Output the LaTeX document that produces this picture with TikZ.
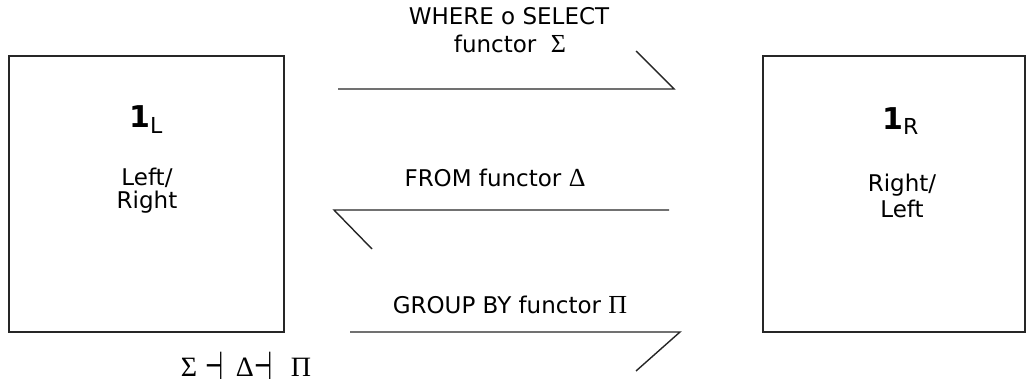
\documentclass[tikz,border=0pt]{standalone}
\usepackage{fontspec}
\usepackage{graphicx}
\setmainfont{DejaVu Sans}
\newfontfamily\grk{Liberation Serif}
\tikzset{
  box/.style={draw=black!85, line width=1.4pt, inner sep=0pt},
  lbl/.style={inner sep=0pt, anchor=base, font=\fontsize{23}{23}\selectfont, align=center},
  one/.style={inner sep=0pt, anchor=base west, font=\fontsize{30}{30}\selectfont\bfseries},
  sym/.style={inner sep=0pt, anchor=base, font=\fontsize{28}{28}\selectfont\grk},
  turn/.style={inner sep=0pt, anchor=base},
  conn/.style={draw=black!85, line width=1.4pt},
}
\begin{document}
\begin{tikzpicture}[x=1pt,y=-1pt]
\useasboundingbox (0,0) rectangle (1028,387);
\fill[white] (0,0) rectangle (1028,387);
% boxes
\node[box, minimum width=275pt, minimum height=276pt] (L) at (146.5,194) {};
\node[box, minimum width=262pt, minimum height=276pt] (R) at (894,194) {};
% box texts
\node[one] (oneL) at (129,128) {1\raisebox{-6pt}{\fontsize{22}{22}\selectfont\mdseries L}};
\node[lbl] (ltxt1) at (147,186) {Left/};
\node[lbl] (ltxt2) at (147,209) {Right};
\node[one] (oneR) at (882,130) {1\raisebox{-5pt}{\fontsize{22}{22}\selectfont\mdseries R}};
\node[lbl] (rtxt1) at (902,192) {Right/};
\node[lbl] (rtxt2) at (902,218) {Left};
% arrow labels
\node[lbl] (t1) at (509,25) {WHERE o SELECT};
\node[lbl] (t2) at (510,53) {functor\ \ {\grk\fontsize{26}{26}\selectfont Σ}};
\node[lbl] (t3) at (495,187) {FROM functor {\grk\fontsize{26}{26}\selectfont Δ}};
\node[lbl] (t4) at (510,314) {GROUP BY functor {\grk\fontsize{26}{26}\selectfont Π}};
% connectors (half arrows)
\coordinate (a1s) at (338,89);  \coordinate (a1e) at (674,89);  \coordinate (a1b) at (636,51);
\coordinate (a2s) at (669,210); \coordinate (a2e) at (334,210); \coordinate (a2b) at (372,249);
\coordinate (a3s) at (350,332); \coordinate (a3e) at (680,332); \coordinate (a3b) at (636,371);
\draw[conn] (a1s) -- (a1e) -- (a1b);
\draw[conn] (a2s) -- (a2e) -- (a2b);
\draw[conn] (a3s) -- (a3e) -- (a3b);
% adjunction
\node[sym] (s1) at (189,376) {Σ};
\node[turn] (d1) at (215,379) {\scalebox{0.8}[1.5]{\fontsize{26}{26}\selectfont ⊣}};
\node[sym] (s2) at (245,376) {Δ};
\node[turn] (d2) at (264,379) {\scalebox{0.8}[1.5]{\fontsize{26}{26}\selectfont ⊣}};
\node[sym] (s3) at (301,376) {Π};
\end{tikzpicture}
\end{document}
